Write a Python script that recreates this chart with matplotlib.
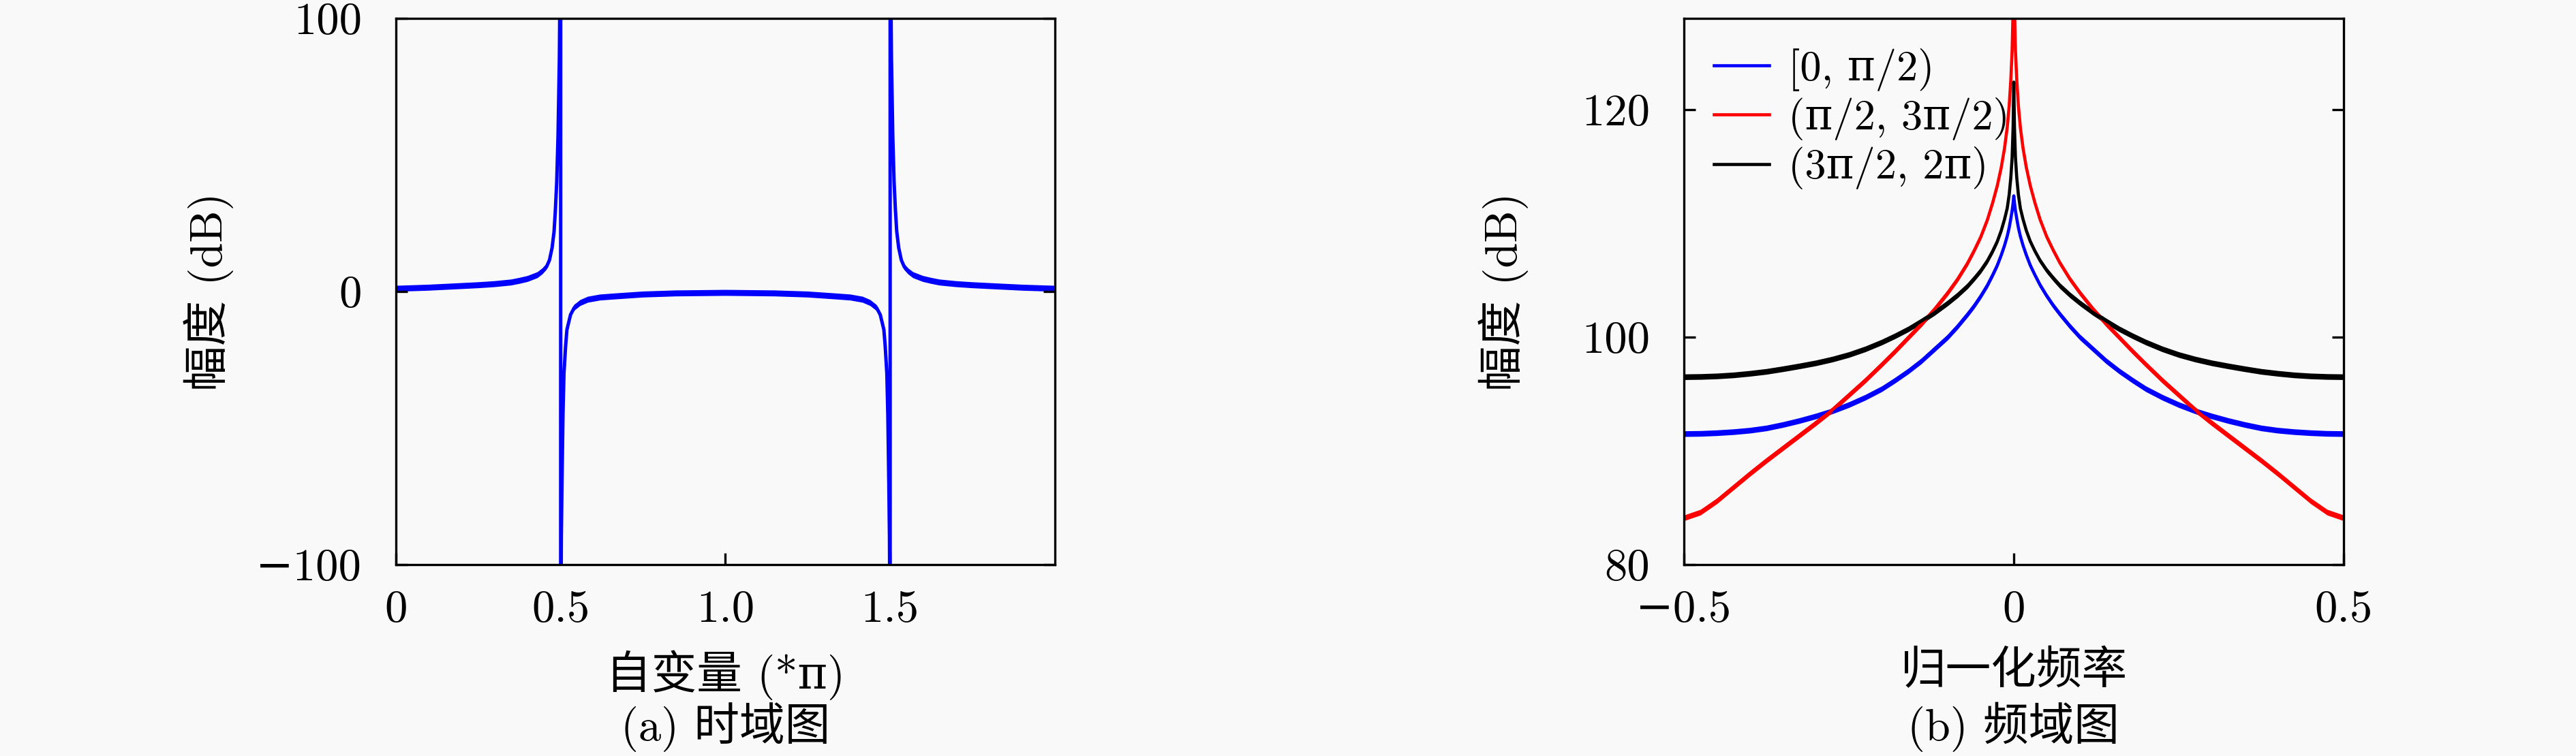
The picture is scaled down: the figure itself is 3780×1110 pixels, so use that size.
import numpy as np
import matplotlib
matplotlib.use('Agg')
import matplotlib.pyplot as plt

# 字体: 数字用cmr10, 中文回落到Noto Sans CJK
plt.rcParams['font.family'] = ['cmr10', 'DejaVu Serif', 'Noto Sans CJK SC']
plt.rcParams['axes.formatter.use_mathtext'] = True

# (a) 时域图数据, 自变量单位为pi
t_pi = [0, 0.05, 0.1, 0.167, 0.25, 0.3, 0.35, 0.375, 0.4, 0.43,
        0.445, 0.457, 0.466, 0.474, 0.48, 0.484, 0.488, 0.492, 0.496, 0.5,
        0.5, 0.502, 0.504, 0.507, 0.51, 0.515, 0.519, 0.53, 0.541, 0.56,
        0.583, 0.62, 0.665, 0.75, 0.85, 1.0, 1.15, 1.25, 1.335, 1.38,
        1.417, 1.44, 1.459, 1.47, 1.481, 1.485, 1.49, 1.493, 1.496, 1.498,
        1.5, 1.5, 1.504, 1.508, 1.512, 1.516, 1.52, 1.526, 1.534, 1.543,
        1.555, 1.57, 1.6, 1.625, 1.65, 1.7, 1.75, 1.833, 1.9, 1.95, 2.0]
amp_t = [1.0, 1.2, 1.4, 1.8, 2.3, 2.7, 3.3, 3.9, 4.6, 6.0,
         7.4, 9.0, 11.5, 16, 22, 30, 40, 57, 85, 140,
         -140, -90, -70, -45, -30, -20, -14, -8.5, -6, -4.2,
         -3.0, -2.2, -1.8, -1.1, -0.7, -0.5, -0.7, -1.1, -1.8, -2.2,
         -3.0, -4.2, -6, -8.5, -14, -20, -30, -45, -70, -90,
         -140, 140, 85, 57, 40, 30, 22, 16, 11.5, 9.0,
         7.4, 6.0, 4.6, 3.9, 3.3, 2.7, 2.3, 1.8, 1.4, 1.2, 1.0]

# (b) 频域图数据 (归一化频率)
freq = [-0.5, -0.475, -0.45, -0.425, -0.4, -0.375, -0.35, -0.325, -0.3, -0.275,
        -0.25, -0.225, -0.2, -0.18, -0.16, -0.14, -0.12, -0.1, -0.085, -0.07,
        -0.06, -0.05, -0.04, -0.032, -0.025, -0.019, -0.014, -0.01, -0.007, -0.0045,
        -0.0025, -0.001, 0,
        0.001, 0.0025, 0.0045, 0.007, 0.01, 0.014, 0.019, 0.025, 0.032, 0.04,
        0.05, 0.06, 0.07, 0.085, 0.1, 0.12, 0.14, 0.16, 0.18, 0.2,
        0.225, 0.25, 0.275, 0.3, 0.325, 0.35, 0.375, 0.4, 0.425, 0.45,
        0.475, 0.5]
spec_blue = [91.5, 91.52, 91.58, 91.67, 91.8, 92.0, 92.3, 92.65, 93.05, 93.5,
             94.05, 94.7, 95.45, 96.2, 97.0, 97.9, 98.95, 100.0, 100.95, 102.0,
             102.75, 103.6, 104.55, 105.45, 106.3, 107.2, 108.05, 108.85, 109.6, 110.4,
             111.1, 111.8, 112.4,
             111.8, 111.1, 110.4, 109.6, 108.85, 108.05, 107.2, 106.3, 105.45, 104.55,
             103.6, 102.75, 102.0, 100.95, 100.0, 98.95, 97.9, 97.0, 96.2, 95.45,
             94.7, 94.05, 93.5, 93.05, 92.65, 92.3, 92.0, 91.8, 91.67, 91.58,
             91.52, 91.5]
spec_red = [84.1, 84.6, 85.6, 86.8, 88.0, 89.15, 90.25, 91.35, 92.45, 93.6,
            94.9, 96.2, 97.6, 98.75, 99.95, 101.15, 102.45, 103.9, 105.1, 106.5,
            107.6, 108.8, 110.3, 111.8, 113.3, 114.9, 116.6, 118.4, 120.3, 122.6,
            125.2, 129.0, 135.0,
            129.0, 125.2, 122.6, 120.3, 118.4, 116.6, 114.9, 113.3, 111.8, 110.3,
            108.8, 107.6, 106.5, 105.1, 103.9, 102.45, 101.15, 99.95, 98.75, 97.6,
            96.2, 94.9, 93.6, 92.45, 91.35, 90.25, 89.15, 88.0, 86.8, 85.6,
            84.6, 84.1]
spec_black = [96.5, 96.52, 96.57, 96.66, 96.8, 96.97, 97.2, 97.45, 97.72, 98.05,
              98.45, 98.95, 99.55, 100.1, 100.7, 101.4, 102.15, 103.0, 103.7, 104.5,
              105.15, 105.85, 106.7, 107.55, 108.4, 109.35, 110.35, 111.3, 112.5, 114.0,
              115.8, 118.5, 122.4,
              118.5, 115.8, 114.0, 112.5, 111.3, 110.35, 109.35, 108.4, 107.55, 106.7,
              105.85, 105.15, 104.5, 103.7, 103.0, 102.15, 101.4, 100.7, 100.1, 99.55,
              98.95, 98.45, 98.05, 97.72, 97.45, 97.2, 96.97, 96.8, 96.66, 96.57,
              96.52, 96.5]
spec_labels = ['[0, π/2)', '(π/2, 3π/2)', '(3π/2, 2π)']

bg = '#f9f9f9'
fig = plt.figure(figsize=(12.6, 3.7), dpi=300, facecolor=bg)
ax1 = fig.add_axes([0.1537, 0.2532, 0.2558, 0.7225], facecolor=bg)
ax2 = fig.add_axes([0.6537, 0.2532, 0.2561, 0.7225], facecolor=bg)

# 时域图, 平坦段有一点抖动的粗带
t_arr = np.array(t_pi)
a_arr = np.array(amp_t)
ax1.fill_between(t_arr, a_arr - 1.1, a_arr + 1.1, color='#0000ff', lw=0)
ax1.plot(t_arr, a_arr, color='#0000ff', lw=1.2)
ax1.set_xlim(0, 2)
ax1.set_ylim(-100, 100)
ax1.set_xticks([0, 0.5, 1.0, 1.5])
ax1.set_xticklabels(['0', '0.5', '1.0', '1.5'])
ax1.set_yticks([-100, 0, 100])
ax1.set_yticklabels(['\u2212100', '0', '100'])
ax1.set_xlabel('自变量 (*π)', fontsize=16)
ax1.set_ylabel('幅度 (dB)', fontsize=16)

# 频域图
f_arr = np.array(freq)
for vals, col, lab in zip([spec_blue, spec_red, spec_black],
                          ['#0000ff', '#ff0000', '#000000'], spec_labels):
    v = np.array(vals)
    ax2.fill_between(f_arr, v - 0.25, v + 0.25, color=col, lw=0)
    ax2.plot(f_arr, v, color=col, lw=1.1, label=lab)
ax2.set_xlim(-0.5, 0.5)
ax2.set_ylim(80, 128)
ax2.set_xticks([-0.5, 0, 0.5])
ax2.set_xticklabels(['\u22120.5', '0', '0.5'])
ax2.set_yticks([80, 100, 120])
ax2.set_yticklabels(['80', '100', '120'])
ax2.set_xlabel('归一化频率', fontsize=16)
ax2.set_ylabel('幅度 (dB)', fontsize=16)
ax2.legend(loc='upper left', bbox_to_anchor=(0.0, 1.0), frameon=False,
           fontsize=15, handlelength=1.3, handletextpad=0.45,
           labelspacing=0.15, borderaxespad=0.3)

for ax in (ax1, ax2):
    for sp in ax.spines.values():
        sp.set_linewidth(0.8)
    ax.tick_params(axis='both', direction='in', length=4, width=0.8,
                   top=False, right=True, labelsize=16)
    ax.tick_params(axis='x', pad=9)
    ax.tick_params(axis='y', pad=12)
    ax.xaxis.set_label_coords(0.5, -0.157)
ax1.yaxis.set_label_coords(-0.246, 0.5)
ax2.yaxis.set_label_coords(-0.236, 0.5)

fig.text(0.2816, 0.038, '(a) 时域图', fontsize=16, ha='center', va='center')
fig.text(0.7817, 0.038, '(b) 频域图', fontsize=16, ha='center', va='center')

fig.savefig('out.png', dpi=300, facecolor=bg)
